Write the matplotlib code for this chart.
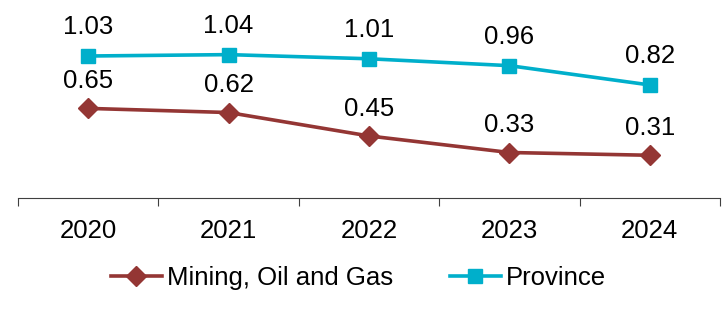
import matplotlib.pyplot as plt

years = ['2020', '2021', '2022', '2023', '2024']
mining = [0.65, 0.62, 0.45, 0.33, 0.31]
province = [1.03, 1.04, 1.01, 0.96, 0.82]

plt.rcParams['font.family'] = ['Liberation Sans', 'DejaVu Sans']

fig = plt.figure(figsize=(7.26, 3.18), dpi=100)
ax = fig.add_axes([18 / 726, 1 - 198 / 318, 702 / 726, 193 / 318])

x = list(range(len(years)))
ax.plot(x, mining, color='#943634', lw=2.6, marker='D', markersize=10,
        label='Mining, Oil and Gas')
ax.plot(x, province, color='#00AFCB', lw=2.6, marker='s', markersize=10,
        label='Province')

for i in x:
    ax.annotate(f'{mining[i]:.2f}', (i, mining[i]), xytext=(0, 11),
                textcoords='offset points', ha='center', va='bottom', fontsize=18.5)
    ax.annotate(f'{province[i]:.2f}', (i, province[i]), xytext=(0, 12),
                textcoords='offset points', ha='center', va='bottom', fontsize=18.5)

ax.set_xlim(-0.5, 4.5)
ax.set_ylim(0, 1.4)
ax.set_xticks([i - 0.5 for i in range(6)])
ax.set_xticklabels([])
ax.set_xticks(x, minor=True)
ax.set_xticklabels(years, minor=True, fontsize=18.5)
ax.tick_params(axis='x', which='major', length=6, width=0.8, color='#404040')
ax.tick_params(axis='x', which='minor', length=0, pad=15)
ax.set_yticks([])
for s in ['top', 'left', 'right']:
    ax.spines[s].set_visible(False)
ax.spines['bottom'].set_color('#404040')
ax.spines['bottom'].set_linewidth(0.8)

fig.legend(loc='center', bbox_to_anchor=(358.5 / 726, 1 - 278 / 318), ncol=2,
           frameon=False, fontsize=18.5, handlelength=2.0, columnspacing=2.2,
           handletextpad=0.2, borderpad=0.2)

fig.savefig('out.png', dpi=100)
